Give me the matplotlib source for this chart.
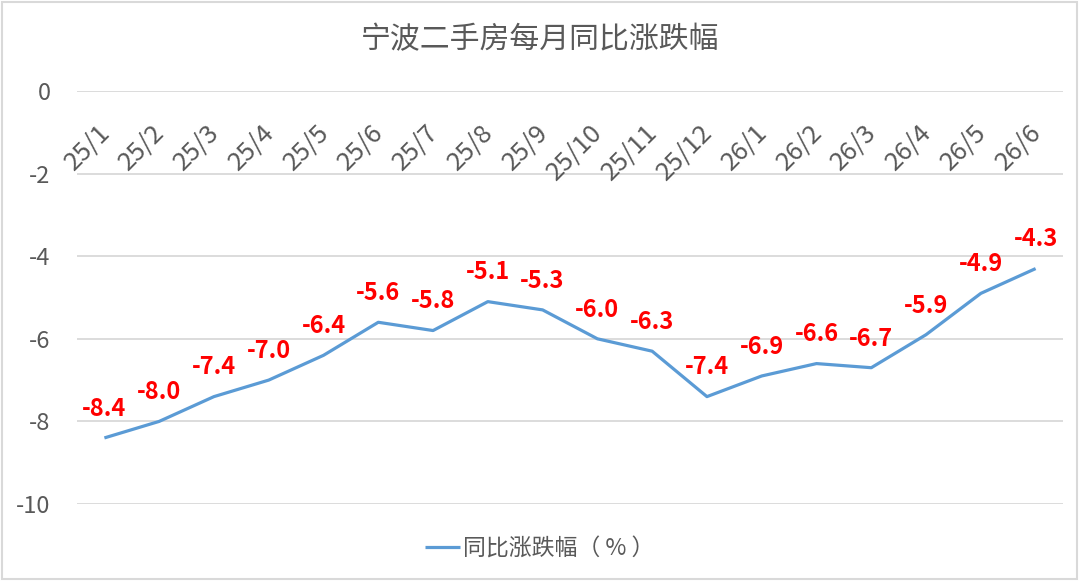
import numpy as np
import matplotlib.pyplot as plt
from matplotlib.patches import Rectangle

plt.rcParams['font.family'] = ['Noto Sans CJK SC', 'DejaVu Sans']

months = ['25/1', '25/2', '25/3', '25/4', '25/5', '25/6', '25/7', '25/8', '25/9',
          '25/10', '25/11', '25/12', '26/1', '26/2', '26/3', '26/4', '26/5', '26/6']
yoy = [-8.4, -8.0, -7.4, -7.0, -6.4, -5.6, -5.8, -5.1, -5.3,
       -6.0, -6.3, -7.4, -6.9, -6.6, -6.7, -5.9, -4.9, -4.3]
y_ticks = [0, -2, -4, -6, -8, -10]

grey = '#595959'
blue = '#5b9bd5'

fig = plt.figure(figsize=(10.8, 5.81), dpi=100)
ax = fig.add_axes([77 / 1080, 1 - 504 / 581, 986 / 1080, 413 / 581])

x = np.arange(len(months))
line, = ax.plot(x, yoy, color=blue, lw=2.3, solid_capstyle='butt',
                label='同比涨跌幅（ % ）')

# data labels above each point
for xi, v in zip(x, yoy):
    ax.annotate('{:.1f}'.format(v), (xi, v), xytext=(0, 21),
                textcoords='offset points', ha='center', va='center',
                color='#ff0000', fontsize=17, fontweight='bold')

# category labels sit just under the 0 line (axis crosses at 0)
for xi, m in zip(x, months):
    ax.annotate(m, (xi, 0), xytext=(1, -27), textcoords='offset points',
                rotation=45, rotation_mode='anchor', ha='right', va='center',
                color=grey, fontsize=18.5)

ax.set_xlim(-0.5, len(months) - 0.5)
ax.set_ylim(-10, 0)
ax.set_yticks(y_ticks)
ax.set_yticklabels([str(t) for t in y_ticks])
ax.set_xticks([])
ax.tick_params(axis='y', length=0, pad=19, labelsize=17, labelcolor=grey)
ax.grid(axis='y', color='#d9d9d9', lw=1.3)
ax.set_axisbelow(True)
for s in ax.spines.values():
    s.set_visible(False)

fig.text(0.5, 1 - 40 / 581, '宁波二手房每月同比涨跌幅', ha='center', va='center',
         fontsize=21.5, color=grey)

fig.legend(handles=[line], loc='center', bbox_to_anchor=(0.5, 1 - 549 / 581),
           frameon=False, fontsize=16.5, labelcolor=grey, handlelength=1.5,
           handletextpad=0.15)

# thin frame around the whole chart
fig.patches.append(Rectangle((0.002, 0.003), 0.995, 0.994, transform=fig.transFigure,
                             fill=False, edgecolor='#d9d9d9', lw=1.5))

fig.savefig('out.png', dpi=100)
